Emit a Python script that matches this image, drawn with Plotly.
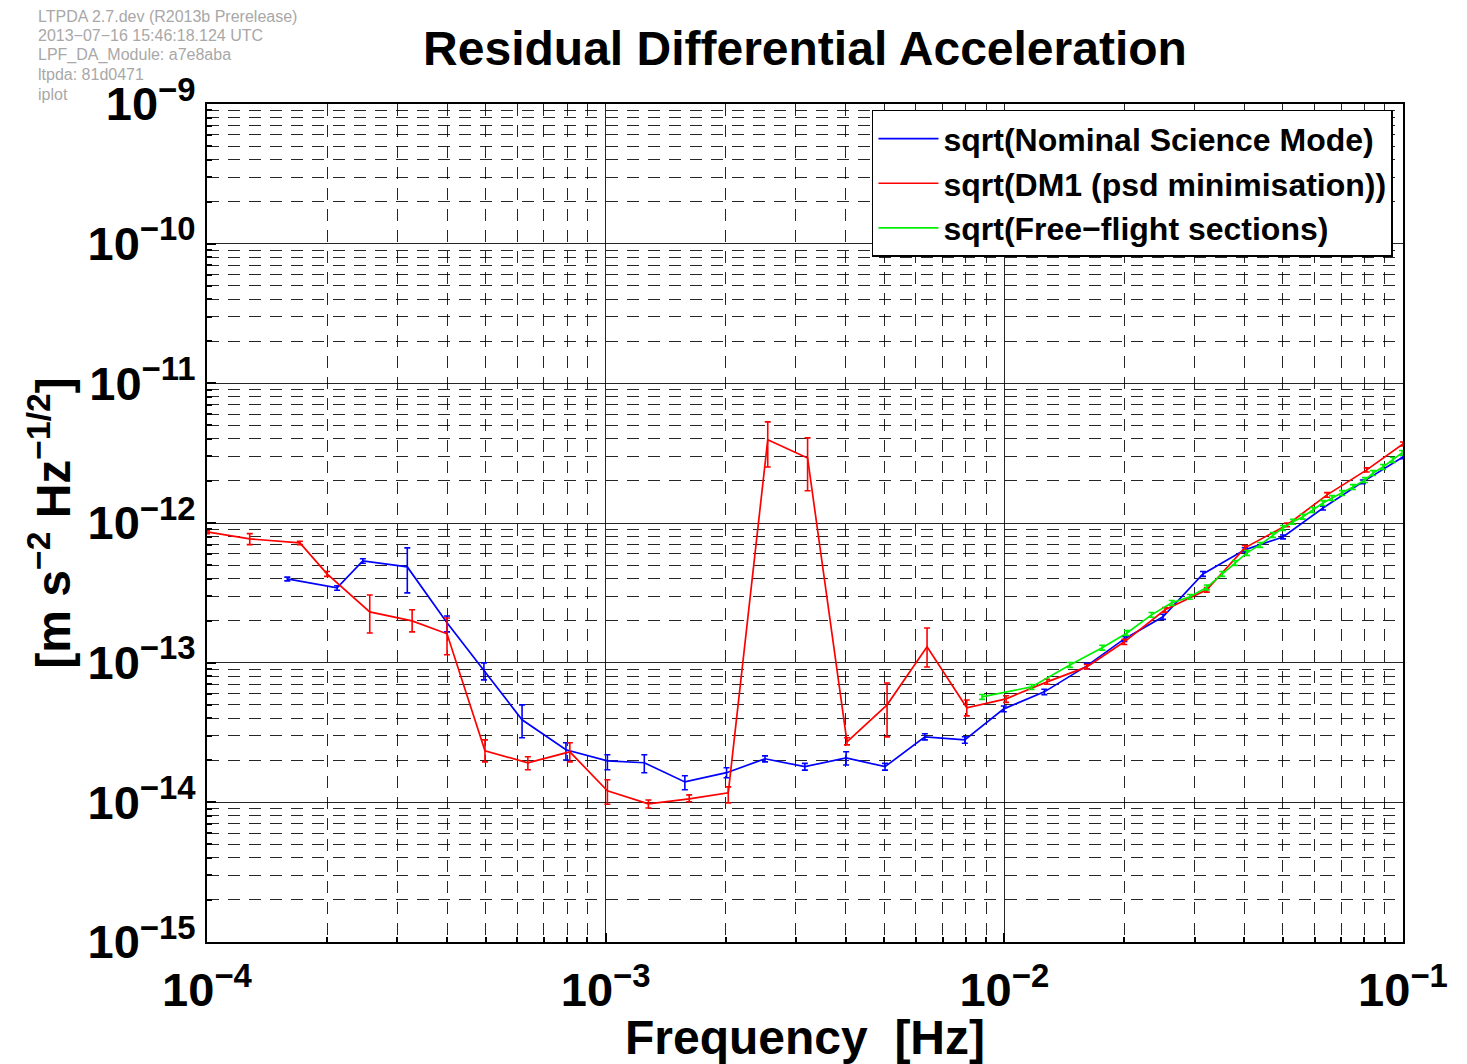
import plotly.graph_objects as go

# ---------------- data ----------------
red_f = [1.0e-4, 1.28e-4, 1.71e-4, 2.0e-4, 2.56e-4, 3.27e-4, 4.0e-4, 4.98e-4, 6.38e-4, 8.13e-4,
         1.01e-3, 1.28e-3, 1.62e-3, 2.03e-3, 2.55e-3, 3.21e-3, 4.03e-3, 5.08e-3, 6.40e-3, 8.05e-3,
         1.01e-2, 1.28e-2, 1.61e-2, 2.0e-2, 2.53e-2, 3.22e-2, 4.01e-2, 5.12e-2, 6.45e-2, 8.11e-2, 1.0e-1]
red_v = [8.63e-13, 7.69e-13, 7.21e-13, 4.32e-13, 2.31e-13, 1.99e-13, 1.61e-13, 2.34e-14, 1.92e-14, 2.30e-14,
         1.21e-14, 9.76e-15, 1.06e-14, 1.17e-14, 3.94e-12, 2.92e-12, 2.71e-14, 4.99e-14, 1.30e-13, 4.75e-14,
         5.51e-14, 7.29e-14, 9.33e-14, 1.41e-13, 2.39e-13, 3.32e-13, 6.64e-13, 9.69e-13, 1.59e-12, 2.40e-12, 3.68e-12]
red_hi = [8.8e-13, 8.4e-13, 7.4e-13, 4.5e-13, 3.05e-13, 2.39e-13, 2.09e-13, 2.80e-14, 2.12e-14, 2.67e-14,
          1.45e-14, 1.04e-14, 1.13e-14, 1.29e-14, 5.30e-12, 4.07e-12, 2.90e-14, 7.16e-14, 1.77e-13, 5.41e-14,
          5.8e-14, 7.6e-14, 9.7e-14, 1.47e-13, 2.48e-13, 3.45e-13, 6.9e-13, 1.0e-12, 1.65e-12, 2.48e-12, 3.8e-12]
red_lo = [8.4e-13, 7.0e-13, 7.0e-13, 4.15e-13, 1.63e-13, 1.66e-13, 1.14e-13, 1.95e-14, 1.71e-14, 1.95e-14,
          9.7e-15, 9.1e-15, 1.01e-14, 9.9e-15, 2.52e-12, 1.70e-12, 2.58e-14, 2.94e-14, 9.3e-14, 4.16e-14,
          5.2e-14, 7.0e-14, 9.0e-14, 1.35e-13, 2.30e-13, 3.2e-13, 6.4e-13, 9.4e-13, 1.53e-12, 2.32e-12, 3.56e-12]

blue_f = [1.59e-4, 2.12e-4, 2.46e-4, 3.18e-4, 4.0e-4, 4.95e-4, 6.17e-4, 7.95e-4, 1.01e-3, 1.25e-3,
          1.58e-3, 2.01e-3, 2.51e-3, 3.16e-3, 4.01e-3, 5.02e-3, 6.32e-3, 7.96e-3, 9.97e-3, 1.26e-2,
          1.61e-2, 2.0e-2, 2.50e-2, 3.15e-2, 4.01e-2, 5.0e-2, 6.30e-2, 7.93e-2, 1.0e-1]
blue_v = [3.98e-13, 3.43e-13, 5.36e-13, 4.85e-13, 1.93e-13, 8.87e-14, 3.90e-14, 2.38e-14, 1.98e-14, 1.92e-14,
          1.40e-14, 1.63e-14, 2.05e-14, 1.80e-14, 2.08e-14, 1.80e-14, 2.94e-14, 2.80e-14, 4.67e-14, 6.18e-14,
          9.48e-14, 1.48e-13, 2.13e-13, 4.32e-13, 6.42e-13, 7.94e-13, 1.28e-12, 1.97e-12, 2.97e-12]
blue_hi = [4.1e-13, 3.55e-13, 5.55e-13, 6.64e-13, 2.16e-13, 9.96e-14, 4.99e-14, 2.67e-14, 2.19e-14, 2.19e-14,
           1.55e-14, 1.77e-14, 2.15e-14, 1.90e-14, 2.30e-14, 1.90e-14, 3.1e-14, 2.95e-14, 4.9e-14, 6.45e-14,
           9.9e-14, 1.54e-13, 2.22e-13, 4.5e-13, 6.65e-13, 8.2e-13, 1.32e-12, 2.03e-12, 3.05e-12]
blue_lo = [3.85e-13, 3.3e-13, 5.15e-13, 3.16e-13, 1.66e-13, 7.53e-14, 2.90e-14, 2.01e-14, 1.71e-14, 1.63e-14,
           1.23e-14, 1.50e-14, 1.95e-14, 1.70e-14, 1.85e-14, 1.70e-14, 2.8e-14, 2.65e-14, 4.45e-14, 5.9e-14,
           9.05e-14, 1.42e-13, 2.04e-13, 4.15e-13, 6.2e-13, 7.7e-13, 1.24e-12, 1.91e-12, 2.89e-12]

green_f = [8.79e-3, 1.17e-2, 1.46e-2, 1.76e-2, 2.03e-2, 2.34e-2, 2.63e-2, 2.92e-2, 3.22e-2, 3.52e-2,
           3.79e-2, 4.06e-2, 4.38e-2, 4.72e-2, 5.00e-2, 5.30e-2, 5.61e-2, 5.94e-2, 6.30e-2, 6.64e-2,
           7.03e-2, 7.49e-2, 8.03e-2, 8.41e-2, 8.91e-2, 9.44e-2, 9.94e-2]
green_v = [5.69e-14, 6.71e-14, 9.64e-14, 1.28e-13, 1.63e-13, 2.20e-13, 2.68e-13, 2.96e-13, 3.46e-13, 4.32e-13,
           5.18e-13, 6.11e-13, 6.97e-13, 8.22e-13, 9.22e-13, 1.02e-12, 1.11e-12, 1.24e-12, 1.39e-12, 1.51e-12,
           1.64e-12, 1.81e-12, 2.03e-12, 2.28e-12, 2.52e-12, 2.83e-12, 3.18e-12]
green_err = [0.04] * len(green_v)  # relative half-height of the small error marks

series_names = ["sqrt(Nominal Science Mode)", "sqrt(DM1 (psd minimisation))", "sqrt(Free\u2212flight sections)"]
x_decades = [-4, -3, -2, -1]
y_decades = [-15, -14, -13, -12, -11, -10, -9]
x_tick_text = ["10<sup>\u22124</sup>", "10<sup>\u22123</sup>", "10<sup>\u22122</sup>", "10<sup>\u22121</sup>"]
y_tick_text = ["10<sup>\u221215</sup>", "10<sup>\u221214</sup>", "10<sup>\u221213</sup>", "10<sup>\u221212</sup>",
               "10<sup>\u221211</sup>", "10<sup>\u221210</sup>", "10<sup>\u22129</sup>"]
info_lines = ["LTPDA 2.7.dev (R2013b Prerelease)", "2013\u221207\u221216 15:46:18.124 UTC",
              "LPF_DA_Module: a7e8aba", "ltpda: 81d0471", "iplot"]

# ---------------- figure ----------------
FONT = "Liberation Sans, Arial, Helvetica, sans-serif"
fig = go.Figure()


def add(name, f, v, hi, lo, color):
    fig.add_trace(go.Scatter(
        x=f, y=v, name=name, mode="lines",
        line=dict(color=color, width=1.7),
        error_y=dict(type="data", symmetric=False,
                     array=[h - a for h, a in zip(hi, v)],
                     arrayminus=[a - l for a, l in zip(v, lo)],
                     color=color, thickness=1.6, width=3),
    ))


add(series_names[0], blue_f, blue_v, blue_hi, blue_lo, "#0000ff")
add(series_names[1], red_f, red_v, red_hi, red_lo, "#ff0000")
add(series_names[2], green_f, green_v,
    [v * (1 + e) for v, e in zip(green_v, green_err)],
    [v * (1 - e) for v, e in zip(green_v, green_err)], "#00f000")


def minor_vals(decades):
    return [m * 10.0 ** d for d in decades[:-1] for m in range(2, 10)]


def axis_style(decades, ticktext):
    return dict(
        type="log", showline=True, linecolor="black", linewidth=2, mirror=True,
        showgrid=True, gridcolor="rgba(0,0,0,0.85)", gridwidth=1,
        tickmode="array", tickvals=[10.0 ** d for d in decades], ticktext=ticktext,
        ticks="inside", ticklen=9, tickcolor="black", tickwidth=1.5,
        tickfont=dict(family=FONT, size=47, color="black", weight="bold"),
        minor=dict(tickmode="array", tickvals=minor_vals(decades),
                   showgrid=True, gridcolor="rgba(0,0,0,0.85)", griddash="12px,9px", gridwidth=1,
                   ticks="inside", ticklen=5, tickcolor="black"),
        zeroline=False, range=[decades[0], decades[-1]],
    )


fig.update_xaxes(**axis_style(x_decades, x_tick_text), ticklabelstandoff=6,
                 title=dict(text="Frequency  [Hz]", font=dict(family=FONT, size=48, color="black", weight="bold"),
                            standoff=0))
fig.update_yaxes(**axis_style(y_decades, y_tick_text), ticklabelstandoff=0,
                 title=dict(text="[m s<sup>\u22122</sup> Hz<sup>\u22121/2</sup>]",
                            font=dict(family=FONT, size=48, color="black", weight="bold"), standoff=2))

fig.update_layout(
    width=1467, height=1064,
    margin=dict(l=207, r=64, t=104, b=122),
    paper_bgcolor="white", plot_bgcolor="white",
    title=dict(text="Residual Differential Acceleration", x=(207 + 1403) / 2 / 1467, xanchor="center",
               y=1 - 48 / 1064, yanchor="middle",
               font=dict(family=FONT, size=48, color="black", weight="bold")),
    legend=dict(x=0.9916, y=0.993, xanchor="right", yanchor="top",
                bgcolor="white", bordercolor="black", borderwidth=1.5,
                font=dict(family=FONT, size=32, color="black", weight="bold"),
                itemwidth=60, tracegroupgap=0),
    showlegend=True,
)

for i, line in enumerate(info_lines):
    fig.add_annotation(text=line, xref="paper", yref="paper",
                       x=(36 - 207) / 1196, y=1 + (104 - 16 - 19.5 * i) / 838,
                       xanchor="left", yanchor="middle", showarrow=False, align="left",
                       font=dict(family=FONT, size=16, color="#a8a8a8"))

fig.write_html("out.html")
